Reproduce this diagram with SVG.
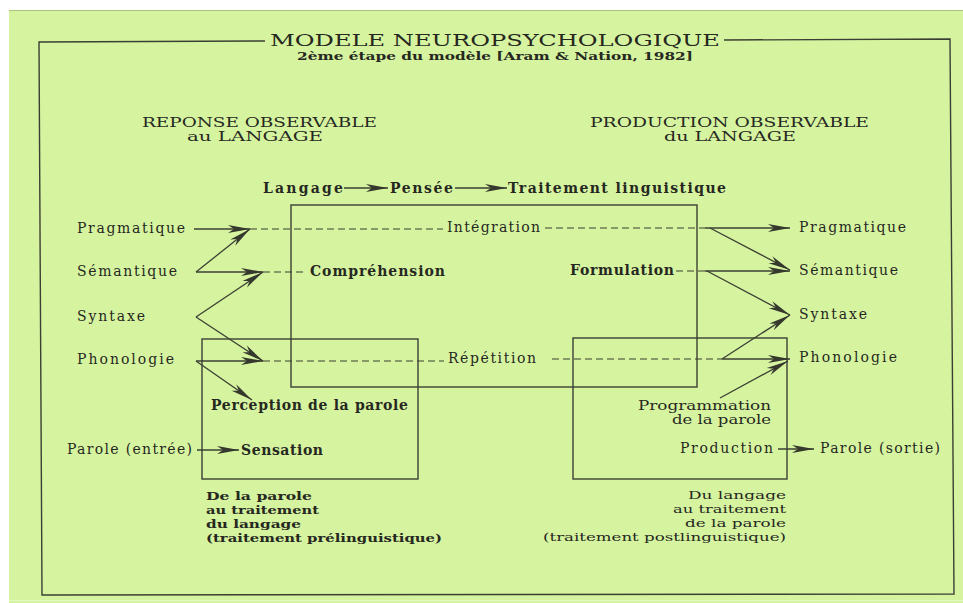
<svg xmlns="http://www.w3.org/2000/svg" width="963" height="603" viewBox="0 0 963 603">
<defs>
<marker id="ah" markerUnits="userSpaceOnUse" markerWidth="22" markerHeight="9" refX="22" refY="4.5" orient="auto" overflow="visible">
<path d="M0,0.5 L22,4.5 L0,8.5 L6,4.5 Z" fill="#35382d"/>
</marker>
</defs>
<style>
text{font-family:"DejaVu Serif","Liberation Serif",serif;fill:#26281f;font-size:14px}
.b{font-weight:bold}
.t{font-size:16px}
.s{font-size:11.5px;font-weight:bold}
.h{font-size:12px}
.n{font-size:11.5px}
.p{font-size:12px}
.ln{stroke:#3b3f33;stroke-width:1.3;fill:none}
.ar{stroke:#3b3f33;stroke-width:1.3;fill:none;marker-end:url(#ah)}
.da{stroke:#3b3f33;stroke-width:1.2;fill:none;stroke-dasharray:7 4}
.bx{stroke:#3b3f33;stroke-width:1.4;fill:none}
</style>
<rect x="0" y="0" width="963" height="603" fill="#ffffff"/>
<rect x="9" y="10" width="954" height="593" fill="#d6f4a0"/>
<line x1="9" y1="10.5" x2="963" y2="10.5" stroke="#a9c27c" stroke-width="1"/>
<line x1="9" y1="600.5" x2="963" y2="600.5" stroke="#e4f8c4" stroke-width="1"/>

<g id="frame">
<path class="bx" d="M265,41 L39,42 L42,595 L954,594 L950,39 L724,40"/>
</g>

<g id="title">
<text class="t" x="270" y="45.5" textLength="450" lengthAdjust="spacingAndGlyphs">MODELE NEUROPSYCHOLOGIQUE</text>
<text class="s" x="297" y="60" textLength="396" lengthAdjust="spacingAndGlyphs">2ème étape du modèle [Aram &amp; Nation, 1982]</text>
</g>

<g id="header-left">
<text class="h" x="142" y="126.5" textLength="235" lengthAdjust="spacingAndGlyphs">REPONSE OBSERVABLE</text>
<text class="h" x="187" y="140.5" textLength="136" lengthAdjust="spacingAndGlyphs">au LANGAGE</text>
</g>
<g id="header-right">
<text class="h" x="590" y="126.5" textLength="279" lengthAdjust="spacingAndGlyphs">PRODUCTION OBSERVABLE</text>
<text class="h" x="664" y="140.5" textLength="132" lengthAdjust="spacingAndGlyphs">du LANGAGE</text>
</g>

<g id="boxes">
<rect id="box-center" class="bx" x="291" y="205" width="406" height="182"/>
<rect id="box-left" class="bx" x="202" y="339" width="216" height="140"/>
<rect id="box-right" class="bx" x="573" y="338" width="214" height="141"/>
</g>

<g id="connectors">
<line class="ar" x1="344" y1="188" x2="388" y2="188"/>
<line class="ar" x1="455" y1="188" x2="507" y2="188"/>

<line class="ar" x1="194" y1="229" x2="250" y2="229"/>
<line class="ar" x1="196" y1="272" x2="250" y2="229"/>
<line class="ar" x1="196" y1="272" x2="263" y2="272"/>
<line class="ar" x1="196" y1="317" x2="263" y2="272"/>
<line class="ar" x1="196" y1="317" x2="263" y2="361"/>
<line class="ar" x1="196" y1="361" x2="263" y2="361"/>
<line class="ar" x1="196" y1="361" x2="252" y2="400"/>
<line class="ar" x1="197" y1="450" x2="239" y2="450"/>

<line class="da" x1="250" y1="229" x2="443" y2="229"/>
<line class="da" x1="263" y1="272" x2="307" y2="272"/>
<line class="da" x1="263" y1="361" x2="444" y2="361"/>
<line class="da" x1="545" y1="228" x2="705" y2="228"/>
<line class="da" x1="676" y1="271" x2="705" y2="271"/>
<line class="da" x1="552" y1="359" x2="722" y2="359"/>

<line class="ar" x1="705" y1="228" x2="790" y2="228"/>
<line class="ar" x1="710" y1="228" x2="790" y2="270"/>
<line class="ar" x1="705" y1="271" x2="790" y2="271"/>
<line class="ar" x1="707" y1="271" x2="790" y2="315"/>
<line class="ar" x1="722" y1="359" x2="790" y2="359"/>
<line class="ar" x1="722" y1="359" x2="790" y2="315"/>
<line class="ar" x1="720" y1="398" x2="788" y2="361"/>
<line class="ar" x1="778" y1="449" x2="814" y2="449"/>
</g>

<g id="flow-top">
<text class="b" x="263" y="193" textLength="80">Langage</text>
<text class="b" x="390" y="193" textLength="63">Pensée</text>
<text class="b" x="508" y="193" textLength="218">Traitement linguistique</text>
</g>

<g id="left-labels">
<text x="77" y="233" textLength="108">Pragmatique</text>
<text x="77" y="276" textLength="100">Sémantique</text>
<text x="77" y="321" textLength="68">Syntaxe</text>
<text x="77" y="364" textLength="97">Phonologie</text>
<text x="67" y="454" textLength="125">Parole (entrée)</text>
</g>

<g id="center-labels">
<text x="447" y="232" textLength="93">Intégration</text>
<text class="b" x="310" y="276" textLength="135">Compréhension</text>
<text class="b" x="570" y="275" textLength="104">Formulation</text>
<text x="448" y="363" textLength="88">Répétition</text>
<text class="b" x="211" y="410" textLength="197">Perception de la parole</text>
<text class="b" x="241" y="455" textLength="82">Sensation</text>
<text class="p" x="638" y="410" textLength="133" lengthAdjust="spacingAndGlyphs">Programmation</text>
<text class="p" x="672" y="424" textLength="99" lengthAdjust="spacingAndGlyphs">de la parole</text>
<text x="680" y="453" textLength="93">Production</text>
<text x="820" y="453" textLength="120">Parole (sortie)</text>
</g>

<g id="right-labels">
<text x="799" y="232" textLength="107">Pragmatique</text>
<text x="799" y="275" textLength="99">Sémantique</text>
<text x="799" y="319" textLength="68">Syntaxe</text>
<text x="799" y="362" textLength="98">Phonologie</text>
</g>

<g id="note-left">
<text class="b n" x="206" y="500" textLength="106" lengthAdjust="spacingAndGlyphs">De la parole</text>
<text class="b n" x="206" y="514" textLength="113" lengthAdjust="spacingAndGlyphs">au traitement</text>
<text class="b n" x="206" y="528" textLength="95" lengthAdjust="spacingAndGlyphs">du langage</text>
<text class="b n" x="206" y="542" textLength="236" lengthAdjust="spacingAndGlyphs">(traitement prélinguistique)</text>
</g>

<g id="note-right">
<text class="n" x="688" y="499" textLength="98" lengthAdjust="spacingAndGlyphs">Du langage</text>
<text class="n" x="673" y="513" textLength="113" lengthAdjust="spacingAndGlyphs">au traitement</text>
<text class="n" x="685" y="527" textLength="101" lengthAdjust="spacingAndGlyphs">de la parole</text>
<text class="n" x="543" y="541" textLength="243" lengthAdjust="spacingAndGlyphs">(traitement postlinguistique)</text>
</g>
</svg>
